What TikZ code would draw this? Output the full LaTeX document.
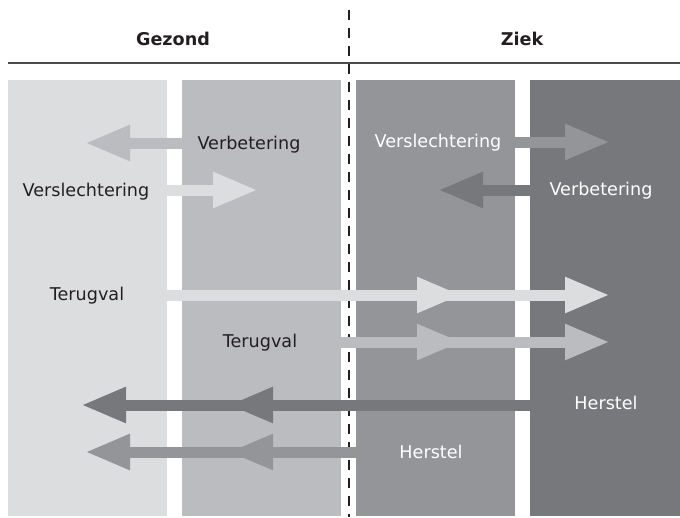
\documentclass[tikz,border=0pt]{standalone}
\usepackage{fontspec}
\setmainfont{DejaVu Sans}
\usetikzlibrary{arrows.meta}
\definecolor{cA}{HTML}{DCDDDF}
\definecolor{cB}{HTML}{BBBCBF}
\definecolor{cC}{HTML}{939598}
\definecolor{cD}{HTML}{77787B}
\definecolor{ink}{HTML}{231F20}
\tikzset{
  band/.style={line width=11pt, -{Triangle[length=45pt,width=33pt]}},
  lbl/.style={inner sep=0pt, anchor=base, font=\fontsize{17.6}{20}\selectfont, text=ink},
  lblw/.style={lbl, text=white},
  head/.style={inner sep=0pt, anchor=base, font=\fontsize{17.6}{20}\selectfont\bfseries, text=ink},
}
\begin{document}
\begin{tikzpicture}[x=1pt,y=-1pt]
\useasboundingbox (0,0) rectangle (680,517);
% columns
\fill[cA] (8,79.5) rectangle (167,516);
\fill[cB] (182,79.5) rectangle (341,516);
\fill[cC] (356,79.5) rectangle (515,516);
\fill[cD] (530,79.5) rectangle (680,516);
% separators
\draw[ink, line width=1.1pt, dash pattern=on 10pt off 8pt] (349,10) -- (349,517);
\draw[black!70, line width=1.6pt] (8,63) -- (680,63);
% headings
\node[head] (gez) at (173,45) {Gezond};
\node[head] (zie) at (522,45) {Ziek};
% labels
\node[lbl] (vb1) at (249,149) {Verbetering};
\node[lbl] (vs1) at (86,196.5) {Verslechtering};
\node[lblw] (vs2) at (438,147) {Verslechtering};
\node[lblw] (vb2) at (601,195) {Verbetering};
\node[lbl] (tg1) at (87,300) {Terugval};
\node[lbl] (tg2) at (260,347) {Terugval};
\node[lblw] (hs1) at (606,409) {Herstel};
\node[lblw] (hs2) at (431,458) {Herstel};
% arrow coordinates
\coordinate (a1s) at (182,143); \coordinate (a1e) at (85,143);
\coordinate (a2s) at (167,190); \coordinate (a2e) at (258,190);
\coordinate (a3s) at (515,142); \coordinate (a3e) at (610,142);
\coordinate (a4s) at (530,190); \coordinate (a4e) at (438,190);
\coordinate (a5s) at (167,295); \coordinate (a5m) at (462,295); \coordinate (a5e) at (610,295);
\coordinate (a6s) at (341,342); \coordinate (a6m) at (462,342); \coordinate (a6e) at (610,342);
\coordinate (a7s) at (530,405); \coordinate (a7m) at (228,405); \coordinate (a7e) at (81,405);
\coordinate (a8s) at (356,452); \coordinate (a8m) at (228,452); \coordinate (a8e) at (85,452);
% arrows
\draw[band, cB] (a1s) -- (a1e);
\draw[band, cA] (a2s) -- (a2e);
\draw[band, cC] (a3s) -- (a3e);
\draw[band, cD] (a4s) -- (a4e);
\draw[band, cA] (a5s) -- (a5e);
\draw[band, cA] (a5s) -- (a5m);
\draw[band, cB] (a6s) -- (a6e);
\draw[band, cB] (a6s) -- (a6m);
\draw[band, cD] (a7s) -- (a7e);
\draw[band, cD] (a7s) -- (a7m);
\draw[band, cC] (a8s) -- (a8e);
\draw[band, cC] (a8s) -- (a8m);
\end{tikzpicture}
\end{document}
